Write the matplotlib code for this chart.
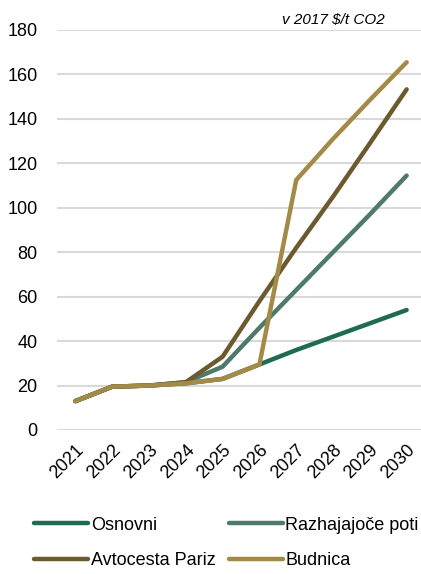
import matplotlib.pyplot as plt

plt.rcParams['font.family'] = ['Liberation Sans', 'DejaVu Sans']

# podatki (v 2017 $/t CO2)
leta = [2021, 2022, 2023, 2024, 2025, 2026, 2027, 2028, 2029, 2030]
osnovni = [13, 19.5, 20, 21, 23, 29.5, 36, 42, 48, 54]
razhajajoce = [13, 19.5, 20, 21.5, 28.5, 46, 63, 80, 97, 114.5]
pariz = [13, 19.5, 20, 21.5, 33, 58, 82, 105, 129, 153.3]
budnica = [13, 19.5, 20, 21, 23, 29.5, 112.5, 131, 148.5, 165.5]

imena = ['Osnovni', 'Razhajajoče poti', 'Avtocesta Pariz', 'Budnica']
barve = ['#1f6b4f', '#4e7a69', '#6b5a2f', '#a38a47']

fig = plt.figure(figsize=(4.21, 5.74), dpi=100)
ax = fig.add_axes([57/421, 1-430/574, 364/421, 400/574])

crte = []
for serija, ime, barva in zip([osnovni, razhajajoce, pariz, budnica], imena, barve):
    l, = ax.plot(leta, serija, color=barva, lw=3.2, label=ime,
                 solid_capstyle='round', solid_joinstyle='round', zorder=3)
    crte.append(l)

ax.set_ylim(0, 180)
ax.set_yticks(range(0, 181, 20))
ax.set_xlim(2020.5, 2030.39)
ax.set_xticks(leta)
ax.set_xticklabels([str(l) for l in leta], rotation=45, ha='right', va='top',
                   rotation_mode='anchor')
ax.tick_params(axis='both', length=0, labelsize=13, colors='#000000')
ax.tick_params(axis='x', pad=8)
ax.tick_params(axis='y', pad=14)
ax.grid(axis='y', color='#d9d9d9', lw=1.5)
ax.set_axisbelow(True)
for s in ax.spines.values():
    s.set_visible(False)

fig.text(385/421, 1-20/574, 'v 2017 \\$/t CO2', ha='right', va='center',
         fontsize=11, style='italic')

# legenda po vrsticah: Osnovni, Razhajajoče / Pariz, Budnica
red = [0, 2, 1, 3]
fig.legend([crte[i] for i in red], [imena[i] for i in red],
           loc='center', bbox_to_anchor=(0.538, 1-543/574), ncol=2, frameon=False,
           fontsize=13, handlelength=3.0, handletextpad=0.15, columnspacing=0.7,
           labelspacing=1.05)

fig.savefig('out.png', dpi=100)
